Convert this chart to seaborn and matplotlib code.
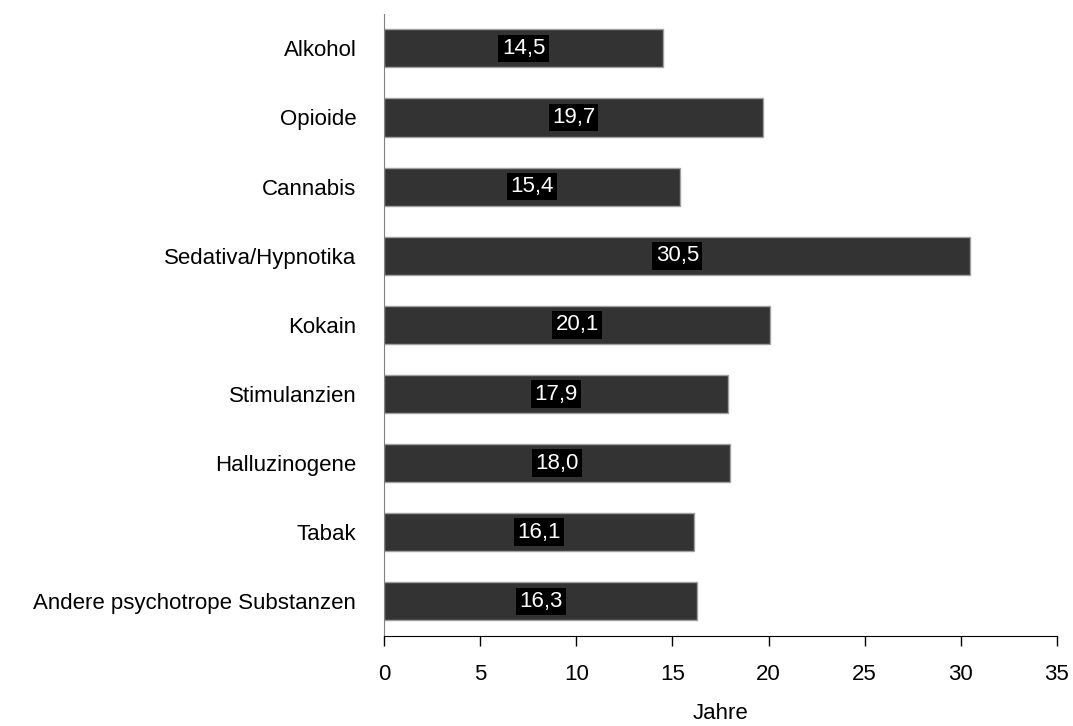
import matplotlib
matplotlib.use("Agg")
import matplotlib.pyplot as plt
import seaborn as sns
import pandas as pd

# Substanzen und Alter (Jahre)
substanzen = ["Alkohol", "Opioide", "Cannabis", "Sedativa/Hypnotika", "Kokain",
              "Stimulanzien", "Halluzinogene", "Tabak", "Andere psychotrope Substanzen"]
jahre = [14.5, 19.7, 15.4, 30.5, 20.1, 17.9, 18.0, 16.1, 16.3]

df = pd.DataFrame({"Substanz": substanzen, "Jahre": jahre})

sns.set_style("white")
plt.rcParams["font.family"] = ["Liberation Sans", "DejaVu Sans"]
plt.rcParams["font.size"] = 16
plt.rcParams["text.color"] = "black"
plt.rcParams["axes.labelcolor"] = "black"
plt.rcParams["xtick.color"] = "black"
plt.rcParams["ytick.color"] = "black"

fig = plt.figure(figsize=(10.73, 7.26), dpi=100)
ax = fig.add_axes([0.358, 0.124, 0.627, 0.857])

sns.barplot(data=df, x="Jahre", y="Substanz", orient="h", color="#333333",
            saturation=1, width=0.55, edgecolor="#a0a0a0", linewidth=1, ax=ax)

# Werte in der Mitte der Balken
for i, v in enumerate(jahre):
    ax.text(v / 2, i, f"{v:.1f}".replace(".", ","), color="white", fontsize=16,
            ha="center", va="center",
            bbox=dict(facecolor="black", edgecolor="none", boxstyle="square,pad=0.15"))

ax.set_xlim(0, 35)
ax.set_ylim(8.5, -0.5)
ax.set_xticks(range(0, 36, 5))
ax.set_xlabel("Jahre", fontsize=16, labelpad=13)
ax.set_ylabel("")

ax.spines["top"].set_visible(False)
ax.spines["right"].set_visible(False)
ax.spines["left"].set_color("#808080")
ax.spines["bottom"].set_color("black")
ax.tick_params(axis="x", bottom=True, direction="out", length=7, width=1, color="black",
               labelcolor="black", pad=13, labelsize=16)
ax.tick_params(axis="y", left=False, length=0, pad=20, labelcolor="black", labelsize=16)

plt.savefig("out.png", dpi=100)
